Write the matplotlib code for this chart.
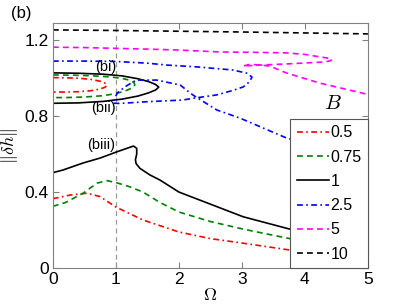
import numpy as np
import matplotlib
matplotlib.use("Agg")
import matplotlib.pyplot as plt

plt.rcParams['font.family'] = ['Liberation Sans', 'DejaVu Sans']
plt.rcParams['mathtext.fontset'] = 'cm'

# values of the parameter (legend labels)
labels = ['0.5', '0.75', '1', '2.5', '5', '10']

# upper closed branches (Omega, ||dh||)
om_05_up = [0, 0.2, 0.4, 0.6, 0.75, 0.83, 0.86, 0.83, 0.75, 0.6, 0.4, 0.2, 0]
h_05_up = [1.002, 1.001, 0.999, 0.993, 0.983, 0.972, 0.963, 0.952, 0.942, 0.933, 0.928, 0.926, 0.926]

om_075_up = [0, 0.3, 0.6, 0.9, 1.1, 1.22, 1.29, 1.3, 1.26, 1.15, 1.0, 0.8, 0.5, 0.2, 0]
h_075_up = [1.016, 1.015, 1.012, 1.006, 0.998, 0.988, 0.975, 0.962, 0.948, 0.932, 0.918, 0.907, 0.9, 0.897, 0.897]

om_1_up = [0, 0.4, 0.8, 1.1, 1.35, 1.52, 1.63, 1.68, 1.63, 1.52, 1.35, 1.1, 0.8, 0.4, 0]
h_1_up = [1.027, 1.025, 1.02, 1.011, 0.996, 0.981, 0.966, 0.952, 0.937, 0.922, 0.905, 0.889, 0.877, 0.869, 0.867]

# lower branches
om_05_lo = [0, 0.27, 0.54, 0.75, 1.0, 1.43, 2.0, 2.5, 3.02, 3.76, 4.4, 5]
h_05_lo = [0.365, 0.384, 0.394, 0.376, 0.321, 0.253, 0.19, 0.155, 0.131, 0.095, 0.075, 0.06]

om_075_lo = [0, 0.2, 0.48, 0.7, 0.86, 1.01, 1.2, 1.43, 1.7, 2.0, 2.5, 3.02, 3.76, 4.4, 5]
h_075_lo = [0.325, 0.345, 0.394, 0.447, 0.46, 0.449, 0.43, 0.40, 0.345, 0.295, 0.245, 0.205, 0.155, 0.12, 0.1]

om_1_lo = [0, 0.16, 0.48, 0.75, 1.01, 1.2, 1.28, 1.33, 1.33, 1.31, 1.32, 1.38, 1.54, 1.7, 2.0, 2.33, 3.02, 3.76, 4.4, 5]
h_1_lo = [0.502, 0.516, 0.553, 0.579, 0.611, 0.633, 0.642, 0.63, 0.6, 0.57, 0.55, 0.525, 0.49, 0.463, 0.40, 0.358, 0.27, 0.205, 0.17, 0.14]

om_25 = [0, 0.5, 1.0, 1.5, 1.81, 2.3, 2.86, 3.08, 3.16, 3.12, 3.02, 2.86, 2.6, 2.22, 2.06, 1.54, 1.43,
         1.06, 0.95, 0.98, 1.02, 1.15, 1.27, 1.33, 1.65, 2.02, 2.22, 2.6, 2.97, 3.71, 4.3, 5]
h_25 = [1.089, 1.089, 1.087, 1.078, 1.068, 1.058, 1.042, 1.025, 1.005, 0.98, 0.953, 0.935, 0.911, 0.893, 0.884, 0.876, 0.874,
        0.866, 0.868, 0.89, 0.921, 0.955, 0.979, 0.989, 0.989, 0.963, 0.911, 0.832, 0.789, 0.684, 0.63, 0.57]

om_5 = [0, 0.5, 1.0, 1.5, 2.0, 2.65, 3.2, 3.71, 4.0, 4.24, 4.38, 4.43, 4.4, 4.29, 3.71, 3.29, 3.02,
        3.13, 3.3, 3.44, 3.71, 4.24, 4.98]
h_5 = [1.162, 1.16, 1.156, 1.152, 1.147, 1.137, 1.135, 1.132, 1.124, 1.111, 1.104, 1.097, 1.09, 1.084, 1.074, 1.068, 1.063,
       1.072, 1.068, 1.063, 1.026, 0.973, 0.915]

om_10 = [0, 1, 2, 3, 4, 5]
h_10 = [1.253, 1.250, 1.246, 1.242, 1.237, 1.232]

fig = plt.figure(figsize=(4.07, 3.05), dpi=100)
ax = fig.add_axes([0.130, 0.121, 0.774, 0.804])

ax.axvline(1, color='#999999', ls='--', lw=0.9, dashes=(4, 3))

lw = 1.2
dash = (3.5, 2.5)
dashdot = (3.5, 2, 1, 2)
l05, = ax.plot(om_05_up, h_05_up, color='red', lw=lw, dashes=dashdot)
ax.plot(om_05_lo, h_05_lo, color='red', lw=lw, dashes=dashdot)
l075, = ax.plot(om_075_up, h_075_up, color='green', lw=lw, dashes=dash)
ax.plot(om_075_lo, h_075_lo, color='green', lw=lw, dashes=dash)
l1, = ax.plot(om_1_up, h_1_up, color='black', ls='-', lw=lw)
ax.plot(om_1_lo, h_1_lo, color='black', ls='-', lw=lw)
l25, = ax.plot(om_25, h_25, color='blue', lw=lw, dashes=dashdot)
l5, = ax.plot(om_5, h_5, color='magenta', lw=lw, dashes=dash)
l10, = ax.plot(om_10, h_10, color='black', lw=lw, dashes=dash)

ax.set_xlim(0, 5)
ax.set_ylim(0, 1.29)
ax.set_xticks([0, 1, 2, 3, 4, 5])
ax.set_yticks([0, 0.4, 0.8, 1.2])
ax.set_yticklabels(['0', '0.4', '0.8', '1.2'])
ax.tick_params(direction='in', top=True, right=True, length=4, labelsize=12.5,
               color='#808080', pad=3)
for s in ax.spines.values():
    s.set_color('#808080')
    s.set_linewidth(0.8)

ax.set_xlabel(r'$\Omega$', fontsize=13, labelpad=0)
ax.set_ylabel(r'$\|\delta h\|$', fontsize=13, labelpad=3)

ax.text(0.84, 1.06, '(bi)', fontsize=10.5, ha='center', va='center')
ax.text(0.80, 0.84, '(bii)', fontsize=10.5, ha='center', va='center')
ax.text(0.76, 0.647, '(biii)', fontsize=10.5, ha='center', va='center')
ax.text(4.45, 0.868, r'$B$', fontsize=15, ha='center', va='center')
fig.text(0.052, 0.957, '(b)', fontsize=12, ha='center', va='center')

leg = ax.legend([l05, l075, l1, l25, l5, l10], labels, loc='lower right',
                bbox_to_anchor=(1.0, 0.0), borderaxespad=0, fontsize=11.5,
                fancybox=False, framealpha=1, edgecolor='#555555',
                handlelength=2.0, handletextpad=0.1, labelspacing=0.58,
                borderpad=0.4)
leg.get_frame().set_linewidth(0.8)

fig.savefig('out.png', dpi=100)
